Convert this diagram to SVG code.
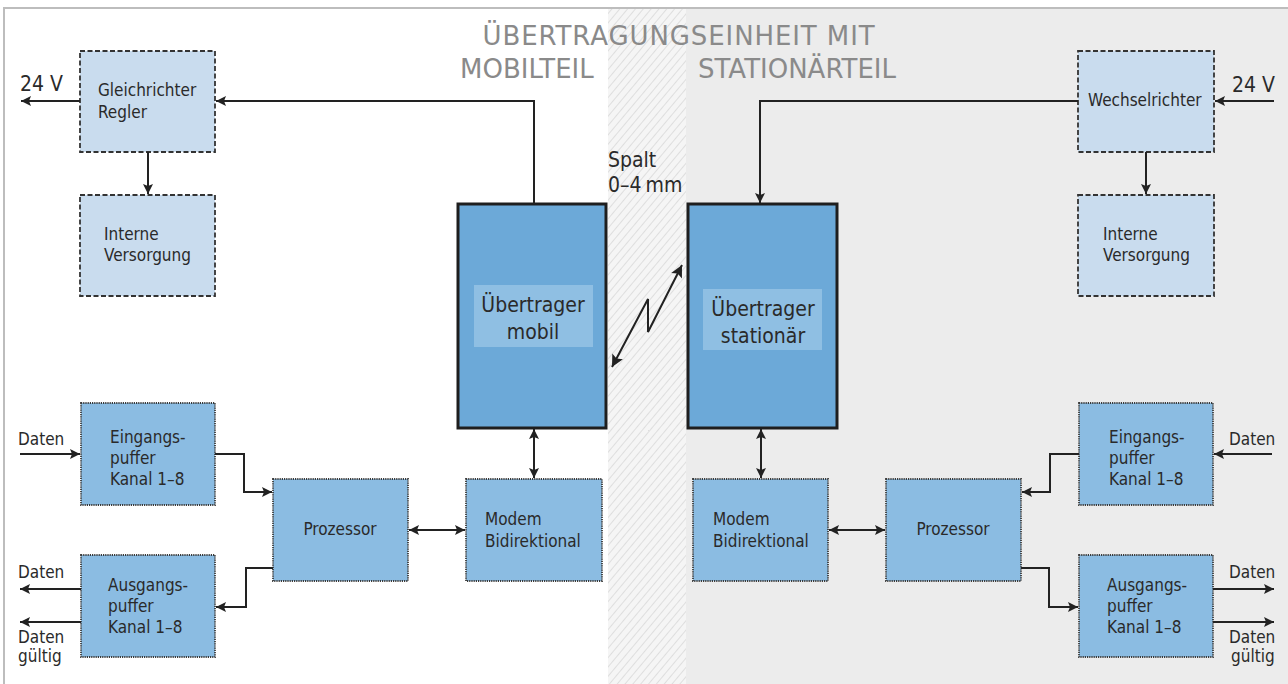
<svg xmlns="http://www.w3.org/2000/svg" width="1288" height="684" viewBox="0 0 1288 684">
<defs>
<pattern id="hatch" width="6" height="6" patternUnits="userSpaceOnUse" patternTransform="rotate(40)">
<rect width="6" height="6" fill="#f5f5f5"/>
<line x1="0" y1="0" x2="0" y2="6" stroke="#d9d9d9" stroke-width="1.6"/>
</pattern>
<marker id="ah" viewBox="0 0 10 10" refX="10" refY="5" markerWidth="10" markerHeight="10" markerUnits="userSpaceOnUse" orient="auto-start-reverse">
<path d="M0,0 L10,5 L0,10 L2,5 z" fill="#222"/>
</marker>
<marker id="ahb" viewBox="0 0 10 10" refX="10" refY="5" markerWidth="14" markerHeight="12" markerUnits="userSpaceOnUse" orient="auto-start-reverse">
<path d="M0,0 L10,5 L0,10 L2,5 z" fill="#222"/>
</marker>
</defs>
<style>
text{font-family:"DejaVu Sans Condensed","DejaVu Sans","Noto Sans",sans-serif;font-stretch:condensed;fill:#2a2a2a;}
.t{font-size:17px;}
.big{font-size:21px;}
.ttl{font-family:"DejaVu Sans","Noto Sans",sans-serif;font-stretch:normal;font-size:26px;fill:#8a8a8a;}
.ue{font-size:21px;text-anchor:middle;}
.pw{fill:#c9dcee;stroke:#333;stroke-width:1.8;stroke-dasharray:5,2.5;}
.dt{fill:#8bbce2;stroke:#3a3a3a;stroke-width:1.8;stroke-dasharray:1.2,1;}
.tr{fill:#6ca9d8;stroke:#1e1e1e;stroke-width:3;}
.in{fill:#8fbfe3;}
.c{fill:none;stroke:#222;stroke-width:2;}
</style>
<rect x="0" y="0" width="1288" height="684" fill="#ffffff"/>
<rect x="686" y="8" width="602" height="676" fill="#ececec"/>
<rect x="608" y="8" width="78" height="676" fill="url(#hatch)"/>
<path d="M4,684 V8 H1288" fill="none" stroke="#bdbdbd" stroke-width="2"/>

<g id="title">
<text class="ttl" x="679" y="45" text-anchor="middle" letter-spacing="0.9">ÜBERTRAGUNGSEINHEIT MIT</text>
<text class="ttl" x="460" y="78">MOBILTEIL</text>
<text class="ttl" x="698" y="78">STATIONÄRTEIL</text>
</g>
<g id="spalt">
<text class="big" x="608" y="167">Spalt</text>
<text class="big" x="608" y="192">0–4<tspan dx="4">mm</tspan></text>
</g>

<g id="gleichrichter"><rect class="pw" x="80" y="51" width="135" height="101"/><text class="t" x="98" y="96">Gleichrichter</text><text class="t" x="98" y="118">Regler</text></g>
<g id="interne-links"><rect class="pw" x="80" y="195" width="135" height="101"/><text class="t" x="104" y="240">Interne</text><text class="t" x="104" y="261">Versorgung</text></g>
<g id="wechselrichter"><rect class="pw" x="1078" y="51" width="136" height="101"/><text class="t" x="1088" y="106">Wechselrichter</text></g>
<g id="interne-rechts"><rect class="pw" x="1078" y="195" width="136" height="101"/><text class="t" x="1103" y="240">Interne</text><text class="t" x="1103" y="261">Versorgung</text></g>

<g id="uebertrager-mobil"><rect class="tr" x="458" y="204" width="148" height="224"/><rect class="in" x="474" y="285" width="119" height="62"/><text class="ue" x="533" y="312">Übertrager</text><text class="ue" x="533" y="339">mobil</text></g>
<g id="uebertrager-stationaer"><rect class="tr" x="688" y="204" width="149" height="224"/><rect class="in" x="703" y="289" width="119" height="61"/><text class="ue" x="763" y="316">Übertrager</text><text class="ue" x="763" y="343">stationär</text></g>

<g id="modem-links"><rect class="dt" x="466" y="479" width="136" height="102"/><text class="t" x="485" y="525">Modem</text><text class="t" x="485" y="547">Bidirektional</text></g>
<g id="modem-rechts"><rect class="dt" x="693" y="479" width="135" height="102"/><text class="t" x="713" y="525">Modem</text><text class="t" x="713" y="547">Bidirektional</text></g>
<g id="prozessor-links"><rect class="dt" x="273" y="479" width="135" height="102"/><text class="t" x="340" y="535" text-anchor="middle">Prozessor</text></g>
<g id="prozessor-rechts"><rect class="dt" x="886" y="479" width="135" height="102"/><text class="t" x="953" y="535" text-anchor="middle">Prozessor</text></g>
<g id="eingang-links"><rect class="dt" x="81" y="403" width="134" height="102"/><text class="t" x="110" y="443">Eingangs-</text><text class="t" x="110" y="464">puffer</text><text class="t" x="110" y="485">Kanal 1–8</text></g>
<g id="ausgang-links"><rect class="dt" x="81" y="555" width="134" height="102"/><text class="t" x="108" y="591">Ausgangs-</text><text class="t" x="108" y="612">puffer</text><text class="t" x="108" y="633">Kanal 1–8</text></g>
<g id="eingang-rechts"><rect class="dt" x="1079" y="403" width="134" height="102"/><text class="t" x="1109" y="443">Eingangs-</text><text class="t" x="1109" y="464">puffer</text><text class="t" x="1109" y="485">Kanal 1–8</text></g>
<g id="ausgang-rechts"><rect class="dt" x="1079" y="555" width="134" height="102"/><text class="t" x="1107" y="591">Ausgangs-</text><text class="t" x="1107" y="612">puffer</text><text class="t" x="1107" y="633">Kanal 1–8</text></g>

<g id="labels">
<text class="big" x="20" y="91">24 V</text>
<text class="big" x="1232" y="92">24 V</text>
<text class="t" x="18" y="445">Daten</text>
<text class="t" x="18" y="578">Daten</text>
<text class="t" x="18" y="643">Daten</text>
<text class="t" x="18" y="662">gültig</text>
<text class="t" x="1229" y="445">Daten</text>
<text class="t" x="1229" y="578">Daten</text>
<text class="t" x="1229" y="643">Daten</text>
<text class="t" x="1231" y="662">gültig</text>
</g>

<g id="connectors">
<path class="c" d="M80,101 H21" marker-end="url(#ah)"/>
<path class="c" d="M534,204 V101 H216" marker-end="url(#ah)"/>
<path class="c" d="M148,152 V194" marker-end="url(#ah)"/>
<path class="c" d="M1274,101 H1215" marker-end="url(#ah)"/>
<path class="c" d="M1078,101 H760 V203" marker-end="url(#ah)"/>
<path class="c" d="M1146,152 V194" marker-end="url(#ah)"/>
<path class="c" d="M612,367 L648,299 L648,332 L682,265" stroke-width="1.6" marker-start="url(#ahb)" marker-end="url(#ahb)"/>
<path class="c" d="M534,429 V478" marker-start="url(#ah)" marker-end="url(#ah)"/>
<path class="c" d="M761,429 V478" marker-start="url(#ah)" marker-end="url(#ah)"/>
<path class="c" d="M409,530 H465" marker-start="url(#ah)" marker-end="url(#ah)"/>
<path class="c" d="M829,530 H885" marker-start="url(#ah)" marker-end="url(#ah)"/>
<path class="c" d="M20,454 H80" marker-end="url(#ah)"/>
<path class="c" d="M215,454 H244 V492 H272" marker-end="url(#ah)"/>
<path class="c" d="M273,568 H246 V607 H216" marker-end="url(#ah)"/>
<path class="c" d="M81,589 H20" marker-end="url(#ah)"/>
<path class="c" d="M81,622 H20" marker-end="url(#ah)"/>
<path class="c" d="M1272,454 H1214" marker-end="url(#ah)"/>
<path class="c" d="M1079,454 H1050 V492 H1022" marker-end="url(#ah)"/>
<path class="c" d="M1021,568 H1049 V607 H1078" marker-end="url(#ah)"/>
<path class="c" d="M1213,589 H1274" marker-end="url(#ah)"/>
<path class="c" d="M1213,622 H1274" marker-end="url(#ah)"/>
</g>
</svg>
